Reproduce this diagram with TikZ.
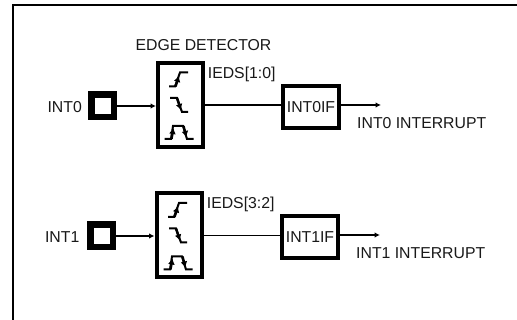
\documentclass[tikz,border=0pt]{standalone}
\usepackage{fontspec}
\setmainfont{Liberation Sans}
\usetikzlibrary{arrows.meta}
\tikzset{
 x=1pt,y=-1pt,
 lbl/.style={inner sep=0pt,font=\fontsize{15.8}{18}\selectfont,text=black!90},
 padbox/.style={draw=black,line width=6.5pt,fill=white,minimum size=22.5pt,inner sep=0pt},
 det/.style={draw=black,line width=4pt,fill=white,inner sep=0pt,minimum width=45pt,minimum height=84pt},
 flag/.style={draw=black,line width=4pt,fill=white,inner sep=0pt,minimum width=56pt,minimum height=42pt,lbl},
 wire/.style={line width=1.8pt},
 arr/.style={line width=1.8pt,-{Latex[length=5.5pt,width=5.5pt]}},
 wave/.style={line width=2pt},
 up/.style={line width=2.4pt,-{Latex[length=6pt,width=7pt]}},
}
\newcommand{\edgeicons}[2]{%
 \begin{scope}[shift={(#1,#2)}]
 \draw[wave] (-11,-18.5) -- (-5,-18.5) -- (0,-32.5) -- (8,-32.5);
 \draw[up] (-4.5,-18.5) -- (-1,-29);
 \draw[wave] (-10,-7) -- (-3,-7) -- (2,7) -- (8,7);
 \draw[up] (-3,-7) -- (1,5);
 \draw[wave] (-15.5,34) -- (-9,34) -- (-7,21) -- (3,21) -- (7,34) -- (13.5,34);
 \draw[up] (-8.5,34) -- (-6.5,23);
 \draw[up] (3.5,21) -- (6.5,32);
 \end{scope}}
\begin{document}
\begin{tikzpicture}
\useasboundingbox (0,0) rectangle (517,320);
\fill[white] (0,0) rectangle (517,320);
\coordinate (fb) at (13,320);
\coordinate (ftl) at (13,5);
\coordinate (ftr) at (517,5);
\draw[line width=2.2pt] (fb) -- (ftl) -- (ftr);
% top row
\node[lbl,anchor=base] (t0) at (203.5,50.7) {EDGE DETECTOR};
\node[lbl,anchor=base east] (int0) at (82,112.3) {INT0};
\node[padbox] (p0) at (102.5,106) {};
\node[det] (d0) at (180.5,105) {};
\node[lbl,anchor=base west] (ie0) at (207.7,78.9) {IEDS[1:0]};
\node[flag] (f0) at (311,107) {INT0IF};
\node[lbl,anchor=base west] (o0) at (357,128.8) {INT0 INTERRUPT};
\coordinate (e0) at (381,105);
\draw[arr] (p0) -- (d0.west |- p0);
\draw[wire] (d0) -- (f0.west |- d0);
\draw[arr] (f0.east |- e0) -- (e0);
\edgeicons{180}{105}
% bottom row
\node[lbl,anchor=base east] (int1) at (79.5,242.3) {INT1};
\node[padbox] (p1) at (101.7,236) {};
\node[det] (d1) at (179,235.5) {};
\node[lbl,anchor=base west] (ie1) at (206.7,208.9) {IEDS[3:2]};
\node[flag] (f1) at (310,237) {INT1IF};
\node[lbl,anchor=base west] (o1) at (356,258.8) {INT1 INTERRUPT};
\coordinate (e1) at (380,235);
\draw[arr] (p1) -- (d1.west |- p1);
\draw[wire] (d1) -- (f1.west |- d1);
\draw[arr] (f1.east |- e1) -- (e1);
\edgeicons{179}{235.5}
\end{tikzpicture}
\end{document}
